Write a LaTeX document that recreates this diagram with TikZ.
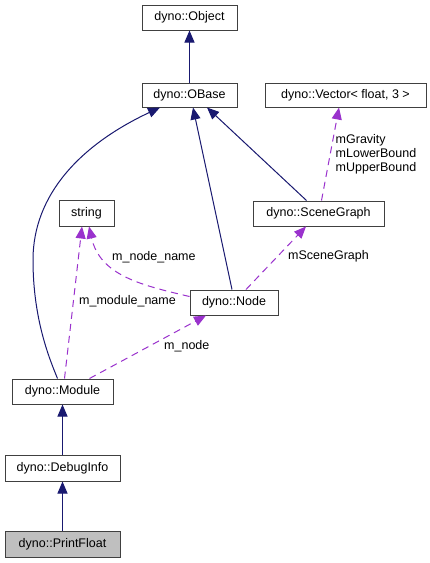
\documentclass[tikz,border=0pt]{standalone}
\usepackage{fontspec}
\setmainfont{Liberation Sans}
\usetikzlibrary{arrows.meta}
\definecolor{navyedge}{HTML}{191970}
\definecolor{purpedge}{HTML}{9A32CD}
\definecolor{boxline}{HTML}{404040}
\definecolor{boxgray}{HTML}{BFBFBF}
\begin{document}
\begin{tikzpicture}[x=1pt,y=-1pt,
  box/.style={draw=boxline,line width=1pt,fill=white,inner sep=0pt,font=\fontsize{12.5}{14}\selectfont},
  inh/.style={navyedge,line width=1pt,-{Triangle[length=12pt,width=10pt]}},
  use/.style={purpedge,line width=1pt,dash pattern=on 7pt off 5pt,-{Triangle[length=12pt,width=10pt]}},
  lbl/.style={font=\fontsize{12.5}{14.5}\selectfont,inner sep=0pt,align=left}]
\useasboundingbox (0,0) rectangle (429,563);
\fill[white] (0,0) rectangle (429,563);
% boxes
\node[box,minimum width=95pt,minimum height=25pt] (obj) at (189.5,17.5) {dyno::Object};
\node[box,minimum width=95pt,minimum height=24pt] (obase) at (189.5,95) {dyno::OBase};
\node[box,minimum width=161pt,minimum height=24pt] (vec) at (345.5,95) {dyno::Vector< float, 3 >};
\node[box,minimum width=131pt,minimum height=25pt] (sg) at (318.5,213.5) {dyno::SceneGraph};
\node[box,minimum width=55pt,minimum height=26pt] (str) at (86.5,213) {string};
\node[box,minimum width=88pt,minimum height=25pt] (node) at (234,302.5) {dyno::Node};
\node[box,minimum width=101pt,minimum height=25pt] (mod) at (62.5,391.5) {dyno::Module};
\node[box,minimum width=115pt,minimum height=26pt] (dbg) at (62.5,468) {dyno::DebugInfo};
\node[box,fill=boxgray,minimum width=115pt,minimum height=26pt] (pf) at (62.5,544) {dyno::PrintFloat};
% inheritance
\draw[inh] (obase.north) -- (obj.south);
\draw[inh] (mod.north west) ++(46,0) coordinate (m1) (m1) .. controls (50,360) and (33,320) .. (33,260) .. controls (33,195) and (80,145) .. (160,107.5);
\draw[inh] (node.north) ++(-2,0) coordinate (n1) (n1) -- (193,107.5);
\draw[inh] (sg.north) ++(-12,0) coordinate (s1) (s1) -- (207,107.5);
\draw[inh] (dbg.north) -- (mod.south);
\draw[inh] (pf.north) -- (dbg.south);
% usage
\coordinate (vt) at (339,107.5);
\draw[use] (sg.north) ++(3,0) coordinate (s2) (s2) -- (vt);
\coordinate (sgb) at (306,226.5);
\draw[use] (node.north) ++(12,0) coordinate (n2) (n2) -- (sgb);
\coordinate (st1) at (89,226.5);
\draw[use] (node.west) ++(0,-6) coordinate (n3) (n3) .. controls (140,285) and (100,275) .. (st1);
\coordinate (st2) at (82,226.5);
\draw[use] (mod.north west) ++(53,0) coordinate (m2) (m2) -- (st2);
\coordinate (nb) at (206,315.5);
\draw[use] (mod.north west) ++(78,0) coordinate (m3) (m3) -- (nb);
% labels
\node[lbl] (l1) at (376,154) {mGravity\\[-0.5pt]mLowerBound\\[-0.5pt]mUpperBound};
\node[lbl,anchor=west] (l2) at (288,256) {mSceneGraph};
\node[lbl,anchor=west] (l3) at (112,257) {m\_node\_name};
\node[lbl,anchor=west] (l4) at (79,301.5) {m\_module\_name};
\node[lbl,anchor=west] (l5) at (164,346.5) {m\_node};
\end{tikzpicture}
\end{document}
